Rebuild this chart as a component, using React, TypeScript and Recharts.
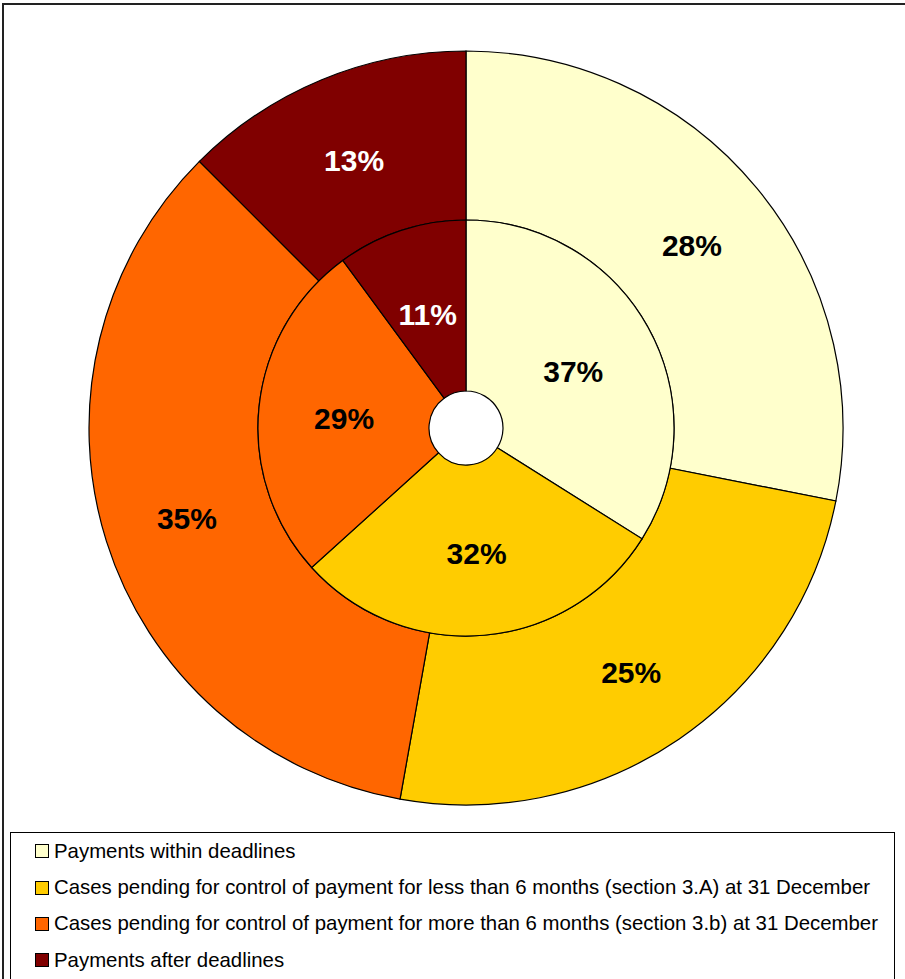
import React from "react";
import { PieChart, Pie, Cell, Legend } from "recharts";

const categories = [
  "Payments within deadlines",
  "Cases pending for control of payment for less than 6 months (section 3.A) at 31 December",
  "Cases pending for control of payment for more than 6 months (section 3.b) at 31 December",
  "Payments after deadlines",
];
const outerValues = [28.1, 24.7, 34.7, 12.5];
const innerValues = [37, 32, 29, 11];
const colors = ["#FFFFCC", "#FFCC00", "#FF6600", "#800000"];
const labelColors = ["#000000", "#000000", "#000000", "#FFFFFF"];

const outerData = categories.map((name, i) => ({ name, value: outerValues[i] }));
const innerData = categories.map((name, i) => ({ name, value: innerValues[i] }));

const RAD = Math.PI / 180;
const FONT = "'Liberation Sans', Arial, sans-serif";

const renderLabel = (props: any) => {
  const { cx, cy, midAngle, innerRadius, outerRadius, value, index } = props;
  const r = (innerRadius + outerRadius) / 2;
  const x = cx + r * Math.cos(-midAngle * RAD);
  const y = cy + r * Math.sin(-midAngle * RAD) + 3;
  return (
    <text
      x={x}
      y={y}
      textAnchor="middle"
      dominantBaseline="central"
      fill={labelColors[index]}
      fontFamily={FONT}
      fontWeight="bold"
      fontSize={30}
    >
      {Math.round(value)}%
    </text>
  );
};

const LegendContent = () => (
  <div
    style={{
      width: 885,
      height: 160,
      border: "1px solid #000",
      boxSizing: "border-box",
      background: "#fff",
      fontFamily: FONT,
      fontSize: 20.4,
      color: "#000",
      paddingTop: 0,
    }}
  >
    {categories.map((c, i) => (
      <div key={c} style={{ display: "flex", alignItems: "center", height: 36.4, paddingLeft: 24 }}>
        <span
          style={{
            display: "inline-block",
            width: 12,
            height: 12,
            background: colors[i],
            border: "1px solid #000",
            marginRight: 5,
          }}
        />
        <span style={{ whiteSpace: "nowrap" }}>{c}</span>
      </div>
    ))}
  </div>
);

export default function App() {
  return (
    <div style={{ position: "absolute", left: 0, top: 0, width: 905, height: 979, overflow: "hidden", background: "#fff" }}>
      <div
        style={{
          position: "absolute",
          left: 2,
          top: 3,
          width: 920,
          height: 1000,
          borderTop: "2px solid #222",
          borderLeft: "2px solid #222",
        }}
      />
      <div style={{ position: "absolute", left: 0, top: 0 }}>
        <PieChart width={905} height={979} margin={{ top: 0, right: 0, bottom: 0, left: 0 }}>
          <Pie
            data={outerData}
            dataKey="value"
            cx={466}
            cy={428}
            innerRadius={208}
            outerRadius={377}
            startAngle={90}
            endAngle={-270}
            stroke="#000"
            strokeWidth={1.2}
            label={renderLabel}
            labelLine={false}
            isAnimationActive={false}
          >
            {outerData.map((d, i) => (
              <Cell key={d.name} fill={colors[i]} />
            ))}
          </Pie>
          <Pie
            data={innerData}
            dataKey="value"
            cx={466}
            cy={428}
            innerRadius={37}
            outerRadius={208}
            startAngle={90}
            endAngle={-270}
            stroke="#000"
            strokeWidth={1.2}
            label={renderLabel}
            labelLine={false}
            isAnimationActive={false}
          >
            {innerData.map((d, i) => (
              <Cell key={d.name} fill={colors[i]} />
            ))}
          </Pie>
          <Legend
            content={() => <LegendContent />}
            wrapperStyle={{ position: "absolute", left: 10, top: 832, width: 885, height: 160, bottom: "auto" }}
          />
        </PieChart>
      </div>
    </div>
  );
}
